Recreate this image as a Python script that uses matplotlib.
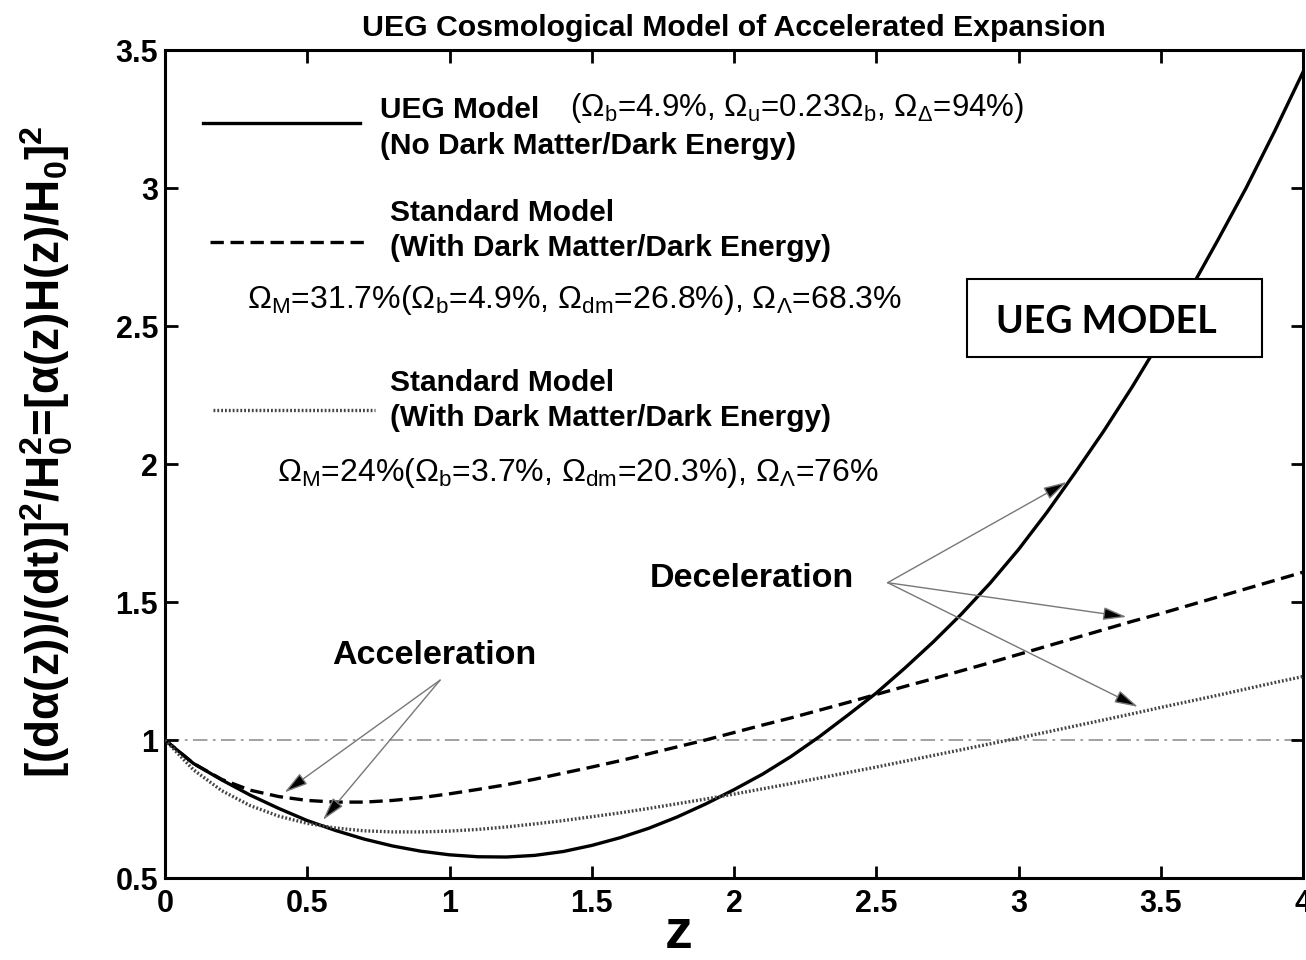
import matplotlib
matplotlib.use("Agg")
import matplotlib.pyplot as plt
from matplotlib.patches import Rectangle
from matplotlib.lines import Line2D

plt.rcParams['font.family'] = ['Liberation Sans', 'DejaVu Sans']
plt.rcParams['mathtext.default'] = 'regular'

# redshift grid and curve values
z = [0.0, 0.1, 0.2, 0.3, 0.4, 0.5, 0.6, 0.7, 0.8, 0.9, 1.0,
     1.1, 1.2, 1.3, 1.4, 1.5, 1.6, 1.7, 1.8, 1.9, 2.0,
     2.1, 2.2, 2.3, 2.4, 2.5, 2.6, 2.7, 2.8, 2.9, 3.0,
     3.1, 3.2, 3.3, 3.4, 3.5, 3.6, 3.7, 3.8, 3.9, 4.0]
ueg = [1.000, 0.915, 0.855, 0.800, 0.752, 0.708, 0.672, 0.641, 0.616, 0.597, 0.584,
       0.577, 0.576, 0.582, 0.596, 0.618, 0.646, 0.680, 0.721, 0.768, 0.820,
       0.876, 0.940, 1.012, 1.090, 1.170, 1.260, 1.355, 1.457, 1.568, 1.690,
       1.825, 1.970, 2.120, 2.280, 2.450, 2.625, 2.810, 3.000, 3.205, 3.420]
std_317 = [1.000, 0.915, 0.857, 0.818, 0.795, 0.781, 0.775, 0.775, 0.781, 0.791, 0.805,
           0.821, 0.838, 0.858, 0.880, 0.902, 0.925, 0.950, 0.975, 1.000, 1.027,
           1.054, 1.080, 1.108, 1.136, 1.165, 1.194, 1.222, 1.251, 1.280, 1.310,
           1.340, 1.370, 1.400, 1.430, 1.458, 1.488, 1.518, 1.548, 1.578, 1.608]
std_24 = [1.000, 0.892, 0.816, 0.762, 0.724, 0.698, 0.681, 0.671, 0.667, 0.667, 0.670,
          0.676, 0.685, 0.696, 0.708, 0.722, 0.736, 0.752, 0.769, 0.786, 0.804,
          0.823, 0.842, 0.862, 0.882, 0.902, 0.923, 0.944, 0.965, 0.986, 1.007,
          1.029, 1.051, 1.073, 1.095, 1.118, 1.140, 1.162, 1.185, 1.208, 1.230]

xticks = [0, 0.5, 1, 1.5, 2, 2.5, 3, 3.5, 4]
xticklabels = ['0', '0.5', '1', '1.5', '2', '2.5', '3', '3.5', '4']
yticks = [0.5, 1, 1.5, 2, 2.5, 3, 3.5]
yticklabels = ['0.5', '1', '1.5', '2', '2.5', '3', '3.5']

# arrows: (tip z, tip value) from a common start per label
accel_start = (0.967, 1.217)
accel_tips = [(0.42, 0.81), (0.555, 0.71)]
decel_start = (2.54, 1.57)
decel_tips = [(3.17, 1.935), (3.38, 1.446), (3.42, 1.12)]

fig = plt.figure(figsize=(13.06, 9.6), dpi=100)
ax = fig.add_axes([165/1306, 1-878/960, (1303-165)/1306, (878-50)/960])

ax.axhline(1.0, color='#9a9a9a', lw=1.3, ls=(0, (8, 3, 1.5, 3)), zorder=1)
ax.plot(z, ueg, color='black', lw=2.4, zorder=3)
ax.plot(z, std_317, color='black', lw=2.4, ls=(0, (4, 2)), zorder=3)
ax.plot(z, std_24, color='#444444', lw=2.4, ls=(0, (0.55, 0.6)), zorder=3)

ax.set_xlim(0, 4)
ax.set_ylim(0.5, 3.5)
ax.set_xticks(xticks)
ax.set_xticklabels(xticklabels)
ax.set_yticks(yticks)
ax.set_yticklabels(yticklabels)
ax.tick_params(direction='in', length=9, width=2, labelsize=22, top=True, right=True)
ax.tick_params(axis='x', pad=8)
ax.tick_params(axis='y', pad=5)
for lab in ax.get_xticklabels() + ax.get_yticklabels():
    lab.set_fontweight('bold')
for sp in ax.spines.values():
    sp.set_linewidth(2.2)

ax.set_title('UEG Cosmological Model of Accelerated Expansion', fontsize=21.8,
             fontweight='bold', pad=10)
ax.set_xlabel('z', fontsize=40, fontweight='bold')
ax.xaxis.set_label_coords(0.451, -0.036)
ax.set_ylabel(r'[(d$\alpha$(z))/(dt)]$^2$/H$_0^2$=[$\alpha$(z)H(z)/H$_0$]$^2$',
              fontsize=33, fontweight='bold')
ax.yaxis.set_label_coords(-0.079, 0.515)

# key entries
tr = ax.transAxes
ax.add_line(Line2D([0.0334, 0.171], [0.912, 0.912], transform=tr, color='black', lw=2.4))
ax.add_line(Line2D([0.0395, 0.178], [0.768, 0.768], transform=tr, color='black', lw=2.4,
                   ls=(0, (4, 2))))
ax.add_line(Line2D([0.042, 0.1845], [0.565, 0.565], transform=tr, color='#444444', lw=2.4,
                   ls=(0, (0.55, 0.6))))

kw_b = dict(transform=tr, fontsize=21.5, fontweight='bold', va='center', ha='left')
kw_n = dict(transform=tr, fontsize=23, va='center', ha='left')
ax.text(0.189, 0.9275, 'UEG Model', **kw_b)
ax.text(0.356, 0.930, r'($\Omega_b$=4.9%, $\Omega_u$=0.23$\Omega_b$, $\Omega_\Delta$=94%)',
        transform=tr, fontsize=22.5, va='center', ha='left')
ax.text(0.189, 0.884, '(No Dark Matter/Dark Energy)', **kw_b)
ax.text(0.198, 0.803, 'Standard Model', **kw_b)
ax.text(0.198, 0.761, '(With Dark Matter/Dark Energy)', **kw_b)
ax.text(0.072, 0.698, r'$\Omega_M$=31.7%($\Omega_b$=4.9%, $\Omega_{dm}$=26.8%), $\Omega_\Lambda$=68.3%', **kw_n)
ax.text(0.198, 0.598, 'Standard Model', **kw_b)
ax.text(0.198, 0.556, '(With Dark Matter/Dark Energy)', **kw_b)
ax.text(0.098, 0.489, r'$\Omega_M$=24%($\Omega_b$=3.7%, $\Omega_{dm}$=20.3%), $\Omega_\Lambda$=76%', **kw_n)

ax.text(0.237, 0.269, 'Acceleration', transform=tr, fontsize=24.5, fontweight='bold',
        ha='center', va='center')
ax.text(0.516, 0.362, 'Deceleration', transform=tr, fontsize=24.5, fontweight='bold',
        ha='center', va='center')

arrow_kw = dict(arrowstyle='-|>,head_length=0.8,head_width=0.22', mutation_scale=18,
                lw=1.0, edgecolor='#777777', facecolor='black', shrinkA=0, shrinkB=0)
for tip in accel_tips:
    ax.annotate('', xy=tip, xytext=accel_start, arrowprops=arrow_kw, zorder=4)
for tip in decel_tips:
    ax.annotate('', xy=tip, xytext=decel_start, arrowprops=arrow_kw, zorder=4)

ax.add_patch(Rectangle((0.705, 0.6292), 0.259, 0.0942, transform=tr, facecolor='white',
                       edgecolor='black', lw=1.5, zorder=5))
ax.text(0.827, 0.6715, 'UEG MODEL', transform=tr, fontsize=27, fontweight='bold',
        family=['Lato', 'DejaVu Sans'], ha='center', va='center', zorder=6)

fig.savefig('out.png', dpi=100)
